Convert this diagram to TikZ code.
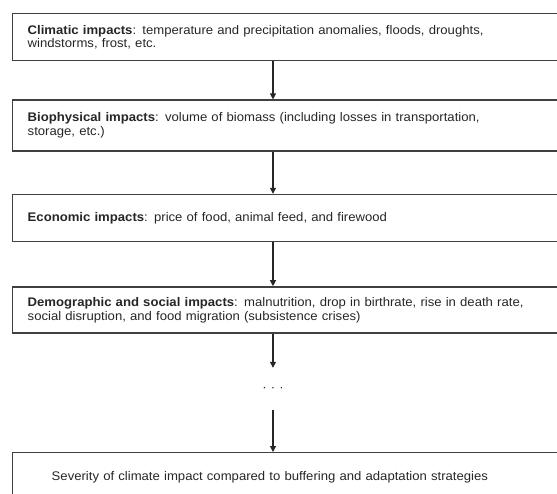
\documentclass[tikz,border=0pt]{standalone}
\usepackage{fontspec}
\setmainfont[FakeStretch=1.05]{Liberation Sans}
\usetikzlibrary{arrows.meta,positioning}
\tikzset{
    impactbox/.style={draw=black!75, line width=1.4pt, minimum width=562pt, text width=532pt, inner xsep=15pt, inner ysep=2pt, align=left, font=\fontsize{12.5}{13.8}\selectfont, text=black!85},
    impactarrow/.style={-{Triangle[length=6pt,width=6pt]}, line width=1.1pt, draw=black!85},
    impactdots/.style={inner sep=0pt, minimum height=42pt, font=\fontsize{12.5}{13.8}\selectfont, text=black!85}
}

\begin{document}
\begin{tikzpicture}[x=1pt,y=-1pt]
    \useasboundingbox (0,0) rectangle (557,493);
    \clip (0,0) rectangle (557,493);
    \coordinate (ax) at (273,0);
    \node[impactbox, anchor=north west, minimum height=47pt] (climatic) at (12,13) {\textbf{Climatic impacts}: temperature and precipitation anomalies, floods, droughts,\\windstorms, frost, etc.};
    \node[impactbox, below=38pt of climatic.south west, anchor=north west, minimum height=51pt] (biophysical) {\textbf{Biophysical impacts}: volume of biomass (including losses in transportation,\\storage, etc.)};
    \node[impactbox, below=42pt of biophysical.south west, anchor=north west, minimum height=47pt] (economic) {\textbf{Economic impacts}: price of food, animal feed, and firewood};
    \node[impactbox, below=44pt of economic.south west, anchor=north west, minimum height=46pt] (social) {\textbf{Demographic and social impacts}: malnutrition, drop in birthrate, rise in death rate,\\social disruption, and food migration (subsistence crises)};
    \node[impactdots] (dots) at (273,389) {·\,\,·\,\,·};
    \node[impactbox, anchor=north west, minimum height=50pt] (severity) at (12,452) {\hspace*{24pt}Severity of climate impact compared to buffering and adaptation strategies};
    % arrows down the chain
    \draw[impactarrow] (climatic.south -| ax) -- (biophysical.north -| ax);
    \draw[impactarrow] (biophysical.south -| ax) -- (economic.north -| ax);
    \draw[impactarrow] (economic.south -| ax) -- (social.north -| ax);
    \draw[impactarrow] (social.south -| ax) -- (dots.north);
    \draw[impactarrow] (dots.south) -- (severity.north -| ax);
\end{tikzpicture}
\end{document}
